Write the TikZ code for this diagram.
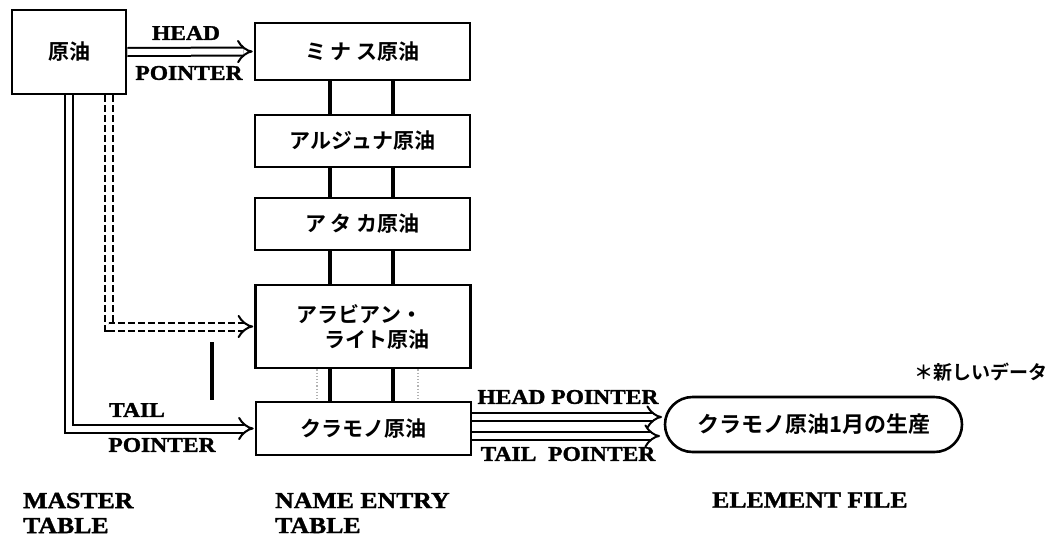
\documentclass[tikz,border=0pt]{standalone}
\usepackage{fontspec}
\usetikzlibrary{arrows.meta,shapes.misc}
\newfontfamily\jp{Noto Sans CJK JP}[UprightFont=* Bold]
\newfontfamily\en{Liberation Serif}[UprightFont=* Bold,FakeStretch=1.12,FakeBold=1.5]
\begin{document}
\begin{tikzpicture}[x=1pt,y=-1pt,
  box/.style={draw,line width=2.6pt,minimum width=215pt,inner sep=0pt,font=\jp\fontsize{21}{25}\selectfont},
  link/.style={line width=3.8pt},
  dbl/.style={double,line width=2pt,double distance=6pt,-{Implies[scale=1.5]},shorten >=1pt},
  lbl/.style={font=\en\fontsize{21}{25}\selectfont,inner sep=0pt},
  biglbl/.style={font=\en\fontsize{23}{25}\selectfont,inner sep=0pt},
  faint/.style={gray!60,dotted,line width=1.2pt}]
\useasboundingbox (0,0) rectangle (1048,541);
% master
\node[box,minimum width=114pt,minimum height=84pt] (m) at (69,52) {原油};
% name entry
\node[box,minimum height=57pt] (b1) at (362.5,51.5) {ミ ナ ス原油};
\node[box,minimum height=52pt] (b2) at (362.5,141) {アルジュナ原油};
\node[box,minimum height=52pt] (b3) at (362.5,224) {ア タ カ原油};
\node[box,minimum height=83pt,align=left] (b4) at (363,326.5) {アラビアン・\\\hspace*{1.3em}ライト原油};
\node[box,minimum height=53pt] (b5) at (363.5,428.5) {クラモノ原油};
% element
\node[draw,rounded rectangle,line width=2.6pt,minimum width=297pt,minimum height=55pt,inner sep=0pt,font=\jp\fontsize{22}{25}\selectfont] (el) at (813.5,424.5) {クラモノ原油1月の生産};
% vertical links
\foreach \a/\b in {b1/b2,b2/b3,b3/b4,b4/b5}{
  \draw[link] (\a.south -| 330,0) -- (\b.north -| 330,0);
  \draw[link] (\a.south -| 393,0) -- (\b.north -| 393,0);
}
\draw[faint] (b4.south -| 317,0) -- (b5.north -| 317,0);
\draw[faint] (b4.south -| 418,0) -- (b5.north -| 418,0);
% pointers from master
\draw[dbl] (m.east) -- (b1.west);
\draw[dbl] (m.south -| 68.5,0) |- (b5.west);
\draw[dbl,dash pattern=on 7pt off 3pt] (m.south -| 109,0) |- (b4.west);
% isolated bar
\coordinate (barT) at (212,342);
\coordinate (barB) at (212,400);
\draw[link] (barT) -- (barB);
% pointers to element
\coordinate (hT) at (663,417);
\coordinate (tT) at (661,436);
\draw[dbl] (b5.east |- hT) -- (hT);
\draw[dbl] (b5.east |- tT) -- (tT);
% labels
\node[lbl] (lh) at (186,33) {HEAD};
\node[lbl] (lp) at (189,73) {POINTER};
\node[lbl] (lt) at (137,410) {TAIL};
\node[lbl] (ltp) at (162,445) {POINTER};
\node[lbl] (hp) at (568,397) {HEAD POINTER};
\node[lbl] (tp) at (568,454) {TAIL\ \ POINTER};
\node[biglbl,anchor=west,align=left] (mt) at (23,513) {MASTER\\TABLE};
\node[biglbl,anchor=west,align=left] (nt) at (275,513) {NAME ENTRY\\TABLE};
\node[biglbl,anchor=west] (ef) at (712,500) {ELEMENT FILE};
\node[font=\jp\fontsize{19}{25}\selectfont,anchor=east,inner sep=0pt] (nd) at (1048,372) {＊新しいデータ};
\end{tikzpicture}
\end{document}
